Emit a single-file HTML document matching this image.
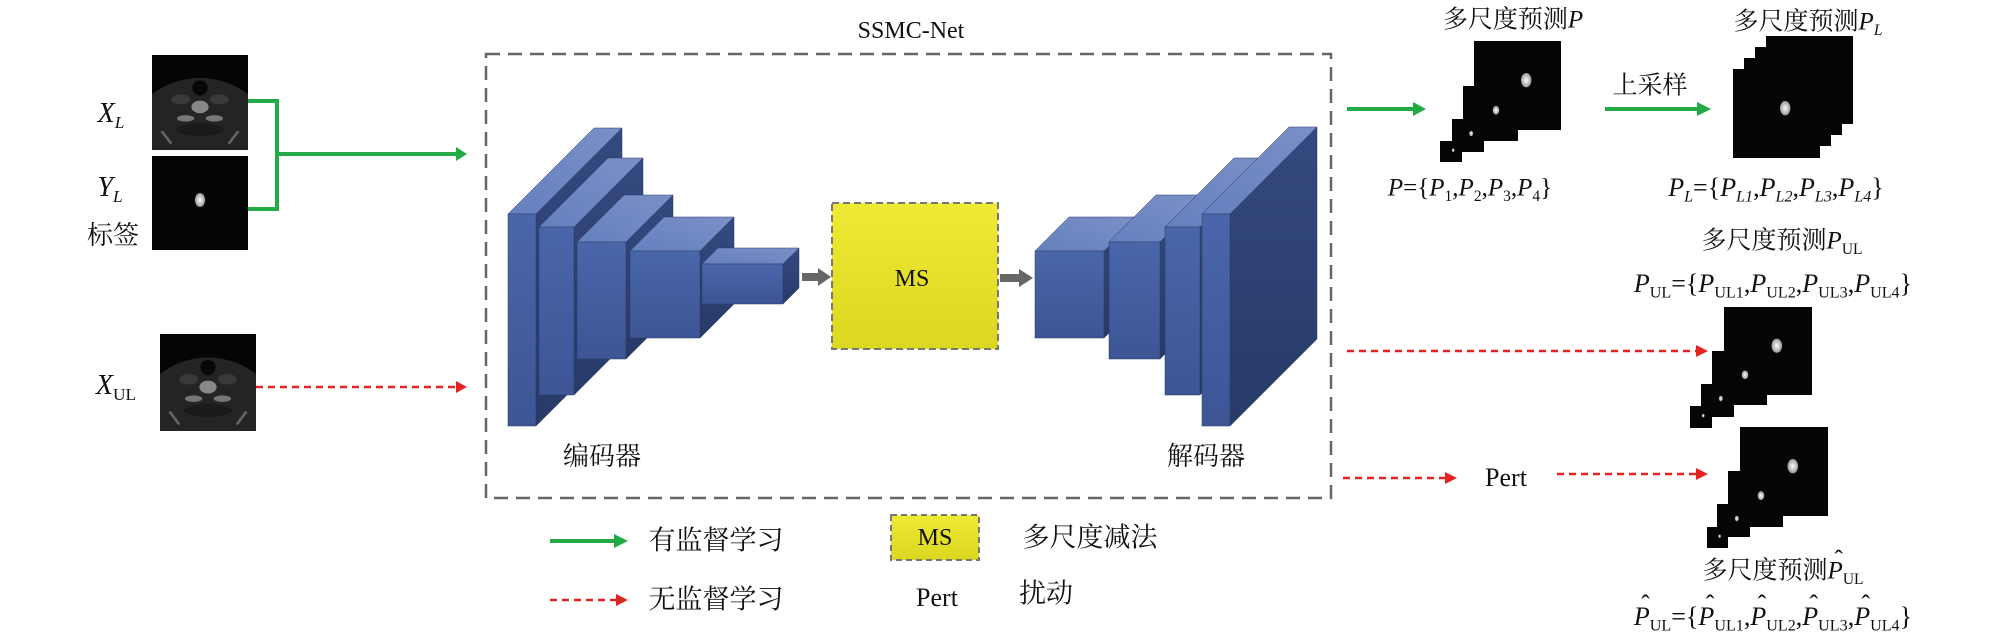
<!DOCTYPE html>
<html><head><meta charset="utf-8">
<style>
html,body{margin:0;padding:0;background:#fff}
#c{position:relative;width:2009px;height:639px;overflow:hidden;background:#fff}
svg{position:absolute;left:0;top:0}
.t{position:absolute;white-space:nowrap;transform:translate(-50%,-50%);font-family:"Liberation Serif","Noto Serif CJK SC",serif;color:#111;line-height:1}
i{font-style:italic}
sub{font-size:62%;vertical-align:-0.35em;line-height:0}
sub.n{font-style:normal}
.h{position:relative;display:inline-block}
.h::before{content:"ˆ";position:absolute;left:0.28em;top:-0.45em;font-style:normal}
</style></head><body><div id="c">
<svg width="2009" height="639" viewBox="0 0 2009 639">
<defs>
<linearGradient id="fr" x1="0" y1="0" x2="0" y2="1"><stop offset="0" stop-color="#4a66aa"/><stop offset="1" stop-color="#3d5595"/></linearGradient>
<linearGradient id="tp" x1="0" y1="1" x2="1" y2="0"><stop offset="0" stop-color="#6680bf"/><stop offset="1" stop-color="#7a90c6"/></linearGradient>
<linearGradient id="sd" x1="0" y1="0" x2="0" y2="1"><stop offset="0" stop-color="#34497f"/><stop offset="1" stop-color="#273a69"/></linearGradient>
<linearGradient id="yl" x1="0" y1="0" x2="0" y2="1"><stop offset="0" stop-color="#eeea35"/><stop offset="1" stop-color="#dcd820"/></linearGradient>
<radialGradient id="bl"><stop offset="0" stop-color="#fff"/><stop offset="1" stop-color="#999"/></radialGradient>
<symbol id="ct" viewBox="0 0 100 150" preserveAspectRatio="none">
<rect width="100" height="150" fill="#050505"/>
<path d="M0 62 Q20 38 50 36 Q80 38 100 62 L100 150 L0 150Z" fill="#242424"/>
<ellipse cx="50" cy="52" rx="8" ry="12" fill="#080808"/>
<ellipse cx="30" cy="70" rx="10" ry="8" fill="#3a3a3a"/><ellipse cx="70" cy="70" rx="10" ry="8" fill="#3a3a3a"/>
<ellipse cx="50" cy="82" rx="9" ry="10" fill="#888"/>
<ellipse cx="35" cy="100" rx="9" ry="5" fill="#777"/><ellipse cx="65" cy="100" rx="9" ry="5" fill="#777"/>
<path d="M10 120 L20 140" stroke="#666" stroke-width="3"/><path d="M90 120 L80 140" stroke="#666" stroke-width="3"/>
<ellipse cx="50" cy="118" rx="25" ry="10" fill="#1a1a1a"/>
</symbol>
<symbol id="mk" viewBox="0 0 100 100" preserveAspectRatio="none">
<rect width="100" height="100" fill="#050505"/>
<ellipse cx="60" cy="44" rx="6" ry="8" fill="url(#bl)"/>
</symbol>
</defs>

<use href="#ct" x="152" y="55" width="96" height="95"/>
<rect x="152" y="156" width="96" height="94" fill="#050505"/>
<ellipse cx="200" cy="200" rx="5" ry="7" fill="url(#bl)"/>
<use href="#ct" x="160" y="334" width="96" height="97"/>

<path d="M248 101 H277 V209 H248 M277 154 H458" fill="none" stroke="#22aa44" stroke-width="4"/>
<polygon points="456,147 467,154 456,161" fill="#22aa44"/>
<path d="M256 387 H456" stroke="#e52222" stroke-width="2.5" stroke-dasharray="7,5"/>
<polygon points="456,381 467,387 456,393" fill="#e52222"/>

<rect x="486" y="54" width="845" height="444" fill="none" stroke="#666" stroke-width="2.5" stroke-dasharray="14,8"/>

<g stroke="#2a3a66" stroke-width="0.5">
<polygon points="508,214 594,128 622,128 536,214" fill="url(#tp)"/><polygon points="536,214 622,128 622,340 536,426" fill="url(#sd)"/><rect x="508" y="214" width="28" height="212" fill="url(#fr)"/>
<polygon points="539,227 608,158 643,158 574,227" fill="url(#tp)"/><polygon points="574,227 643,158 643,326 574,395" fill="url(#sd)"/><rect x="539" y="227" width="35" height="168" fill="url(#fr)"/>
<polygon points="577,242 624,195 673,195 626,242" fill="url(#tp)"/><polygon points="626,242 673,195 673,312 626,359" fill="url(#sd)"/><rect x="577" y="242" width="49" height="117" fill="url(#fr)"/>
<polygon points="630,251 664,217 734,217 700,251" fill="url(#tp)"/><polygon points="700,251 734,217 734,304 700,338" fill="url(#sd)"/><rect x="630" y="251" width="70" height="87" fill="url(#fr)"/>
<polygon points="702,264 718,248 799,248 783,264" fill="url(#tp)"/><polygon points="783,264 799,248 799,288 783,304" fill="url(#sd)"/><rect x="702" y="264" width="81" height="40" fill="url(#fr)"/>
</g>
<path d="M802 277 H820" stroke="#666" stroke-width="8"/><polygon points="818,268 831,277 818,286" fill="#666"/>
<rect x="832" y="203" width="166" height="146" fill="url(#yl)" stroke="#777" stroke-width="2" stroke-dasharray="7,4"/>
<path d="M1000 278 H1020" stroke="#666" stroke-width="8"/><polygon points="1019,269 1033,278 1019,287" fill="#666"/>

<g stroke="#2a3a66" stroke-width="0.5">
<polygon points="1035,251 1069,217 1139,217 1104,251" fill="url(#tp)"/><polygon points="1104,251 1139,217 1139,304 1104,338" fill="url(#sd)"/><rect x="1035" y="251" width="69" height="87" fill="url(#fr)"/>
<polygon points="1109,242 1156,195 1207,195 1160,242" fill="url(#tp)"/><polygon points="1160,242 1207,195 1207,312 1160,359" fill="url(#sd)"/><rect x="1109" y="242" width="51" height="117" fill="url(#fr)"/>
<polygon points="1165,227 1234,158 1269,158 1200,227" fill="url(#tp)"/><polygon points="1200,227 1269,158 1269,326 1200,395" fill="url(#sd)"/><rect x="1165" y="227" width="35" height="168" fill="url(#fr)"/>
<polygon points="1202,214 1289,127 1317,127 1230,214" fill="url(#tp)"/><polygon points="1230,214 1317,127 1317,339 1230,426" fill="url(#sd)"/><rect x="1202" y="214" width="28" height="212" fill="url(#fr)"/>
</g>

<path d="M1347 109 H1415" stroke="#22aa44" stroke-width="4"/><polygon points="1413,102 1426,109 1413,116" fill="#22aa44"/>
<use href="#mk" x="1474" y="41" width="87" height="89"/>
<use href="#mk" x="1463" y="86" width="55" height="55"/>
<use href="#mk" x="1452" y="119" width="32" height="33"/>
<use href="#mk" x="1440" y="141" width="22" height="21"/>
<path d="M1605 109 H1698" stroke="#22aa44" stroke-width="4"/><polygon points="1697,102 1711,109 1697,116" fill="#22aa44"/>
<use href="#mk" x="1766" y="36" width="87" height="88"/>
<use href="#mk" x="1755" y="47" width="87" height="88"/>
<use href="#mk" x="1744" y="58" width="87" height="88"/>
<use href="#mk" x="1733" y="69" width="87" height="89"/>

<path d="M1347 351 H1696" stroke="#e52222" stroke-width="2.5" stroke-dasharray="7,5"/><polygon points="1696,345 1708,351 1696,357" fill="#e52222"/>
<use href="#mk" x="1724" y="307" width="88" height="88"/>
<use href="#mk" x="1712" y="351" width="55" height="54"/>
<use href="#mk" x="1701" y="384" width="33" height="33"/>
<use href="#mk" x="1690" y="406" width="22" height="22"/>
<path d="M1343 478 H1445" stroke="#e52222" stroke-width="2.5" stroke-dasharray="7,5"/><polygon points="1445,472 1457,478 1445,484" fill="#e52222"/>
<path d="M1557 474 H1696" stroke="#e52222" stroke-width="2.5" stroke-dasharray="7,5"/><polygon points="1696,468 1708,474 1696,480" fill="#e52222"/>
<use href="#mk" x="1740" y="427" width="88" height="89"/>
<use href="#mk" x="1728" y="471" width="55" height="56"/>
<use href="#mk" x="1717" y="504" width="33" height="33"/>
<use href="#mk" x="1707" y="527" width="21" height="21"/>

<path d="M550 541 H615" stroke="#22aa44" stroke-width="4"/><polygon points="614,534 628,541 614,548" fill="#22aa44"/>
<path d="M550 600 H616" stroke="#e52222" stroke-width="2.5" stroke-dasharray="7,5"/><polygon points="616,594 628,600 616,606" fill="#e52222"/>
<rect x="891" y="515" width="88" height="45" fill="url(#yl)" stroke="#777" stroke-width="2" stroke-dasharray="6,4"/>
</svg>

<div class="t" style="left:911px;top:31px;font-size:24px">SSMC-Net</div>
<div class="t" style="left:111px;top:114px;font-size:28px"><i>X<sub>L</sub></i></div>
<div class="t" style="left:110px;top:188px;font-size:28px"><i>Y<sub>L</sub></i></div>
<div class="t" style="left:113px;top:236px;font-size:26px">标签</div>
<div class="t" style="left:116px;top:386px;font-size:28px"><i>X</i><sub class="n">UL</sub></div>
<div class="t" style="left:912px;top:279px;font-size:24px">MS</div>
<div class="t" style="left:602px;top:457px;font-size:26px">编码器</div>
<div class="t" style="left:1206px;top:457px;font-size:26px">解码器</div>

<div class="t" style="left:716px;top:541px;font-size:27px">有监督学习</div>
<div class="t" style="left:716px;top:600px;font-size:27px">无监督学习</div>
<div class="t" style="left:935px;top:538px;font-size:24px">MS</div>
<div class="t" style="left:937px;top:598px;font-size:26px">Pert</div>
<div class="t" style="left:1090px;top:538px;font-size:27px">多尺度减法</div>
<div class="t" style="left:1046px;top:594px;font-size:27px">扰动</div>

<div class="t" style="left:1513px;top:20px;font-size:25px">多尺度预测<i>P</i></div>
<div class="t" style="left:1470px;top:188px;font-size:25px"><i>P</i>={<i>P</i><sub>1</sub>,<i>P</i><sub>2</sub>,<i>P</i><sub>3</sub>,<i>P</i><sub>4</sub>}</div>
<div class="t" style="left:1650px;top:86px;font-size:25px">上采样</div>
<div class="t" style="left:1808px;top:22px;font-size:25px">多尺度预测<i>P<sub>L</sub></i></div>
<div class="t" style="left:1776px;top:188px;font-size:26px"><i>P<sub>L</sub></i>={<i>P<sub>L1</sub></i>,<i>P<sub>L2</sub></i>,<i>P<sub>L3</sub></i>,<i>P<sub>L4</sub></i>}</div>
<div class="t" style="left:1782px;top:241px;font-size:25px">多尺度预测<i>P</i><sub class="n">UL</sub></div>
<div class="t" style="left:1773px;top:284px;font-size:26px"><i>P</i><sub class="n">UL</sub>={<i>P</i><sub class="n">UL1</sub>,<i>P</i><sub class="n">UL2</sub>,<i>P</i><sub class="n">UL3</sub>,<i>P</i><sub class="n">UL4</sub>}</div>
<div class="t" style="left:1506px;top:478px;font-size:26px">Pert</div>
<div class="t" style="left:1783px;top:571px;font-size:25px">多尺度预测<i class="h">P</i><sub class="n">UL</sub></div>
<div class="t" style="left:1773px;top:617px;font-size:26px"><i class="h">P</i><sub class="n">UL</sub>={<i class="h">P</i><sub class="n">UL1</sub>,<i class="h">P</i><sub class="n">UL2</sub>,<i class="h">P</i><sub class="n">UL3</sub>,<i class="h">P</i><sub class="n">UL4</sub>}</div>
</div></body></html>
